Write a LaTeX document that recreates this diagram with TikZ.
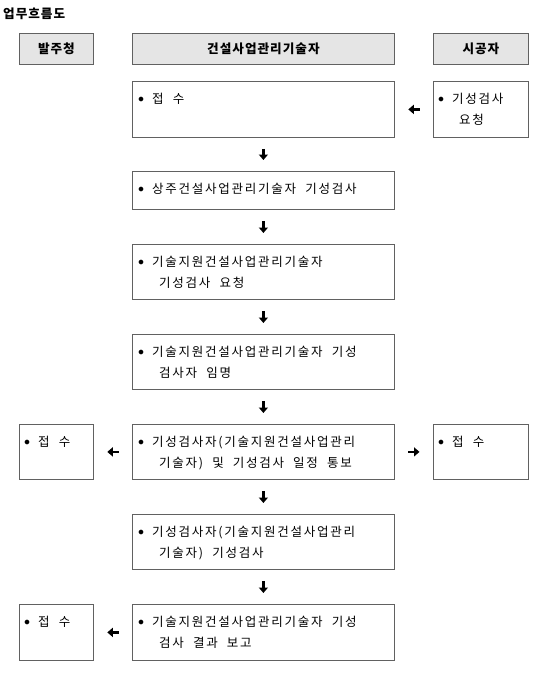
\documentclass[tikz,border=0pt]{standalone}
\usepackage{fontspec}
\usepackage{tikz}
\usetikzlibrary{arrows.meta}
\newfontfamily\krfont[LetterSpace=14,WordSpace=2.0]{Noto Sans CJK KR}
\newfontfamily\krhead[LetterSpace=8]{Noto Sans CJK KR}
\definecolor{boxline}{rgb}{0.38,0.38,0.38}
\definecolor{headfill}{rgb}{0.9,0.9,0.9}
\newcommand{\bul}{\makebox[14pt][l]{\raisebox{1pt}{$\bullet$}}}

\begin{document}
\begin{tikzpicture}[x=1pt,y=-1pt,
    box/.style={draw=boxline,line width=0.8pt,inner sep=0pt,anchor=north west},
    head/.style={box,fill=headfill,font=\krhead\bfseries\fontsize{12.6}{15}\selectfont},
    txt/.style={anchor=north west,inner sep=0pt,align=left,font=\krfont\fontsize{12.5}{21}\selectfont},
    arr/.style={-{Triangle[length=5.5pt,width=9pt]},line width=2.4pt,shorten <=11pt,shorten >=11pt},
    harr/.style={arr,shorten <=13.5pt,shorten >=13.5pt}]
            \useasboundingbox (0,0) rectangle (550,685);
            \node [anchor=west,inner sep=0pt,font=\krhead\bfseries\fontsize{12.6}{15}\selectfont] (title) at (3,14) {업무흐름도};

            \node [head,minimum width=74pt,minimum height=31pt] (h1) at (19,33) {발주청};
            \node [head,minimum width=262pt,minimum height=31pt] (h2) at (132,33) {건설사업관리기술자};
            \node [head,minimum width=95pt,minimum height=31pt] (h3) at (433,33) {시공자};

            \node [box,minimum width=262pt,minimum height=56pt] (c1) at (132,81) {};
            \node [box,minimum width=262pt,minimum height=38pt] (c2) at (132,171) {};
            \node [box,minimum width=262pt,minimum height=55pt] (c3) at (132,244) {};
            \node [box,minimum width=262pt,minimum height=55pt] (c4) at (132,334) {};
            \node [box,minimum width=262pt,minimum height=55pt] (c5) at (132,424) {};
            \node [box,minimum width=262pt,minimum height=55pt] (c6) at (132,514) {};
            \node [box,minimum width=262pt,minimum height=56pt] (c7) at (132,604) {};
            \node [box,minimum width=95pt,minimum height=56pt] (r1) at (433,81) {};
            \node [box,minimum width=95pt,minimum height=55pt] (r5) at (433,424) {};
            \node [box,minimum width=74pt,minimum height=55pt] (l5) at (19,424) {};
            \node [box,minimum width=74pt,minimum height=56pt] (l7) at (19,604) {};

            \node [txt] (t1) at ([shift={(6,12)}]c1.north west) {\bul 접 수};
            \node [txt] (t2) at ([shift={(6,12)}]c2.north west) {\bul 상주건설사업관리기술자 기성검사};
            \node [txt] (t3) at ([shift={(6,12)}]c3.north west) {\bul 기술지원건설사업관리기술자\\\hspace*{21pt}기성검사 요청};
            \node [txt] (t4) at ([shift={(6,12)}]c4.north west) {\bul 기술지원건설사업관리기술자 기성\\\hspace*{21pt}검사자 임명};
            \node [txt] (t5) at ([shift={(6,12)}]c5.north west) {\bul 기성검사자(기술지원건설사업관리\\\hspace*{21pt}기술자) 및 기성검사 일정 통보};
            \node [txt] (t6) at ([shift={(6,12)}]c6.north west) {\bul 기성검사자(기술지원건설사업관리\\\hspace*{21pt}기술자) 기성검사};
            \node [txt] (t7) at ([shift={(6,12)}]c7.north west) {\bul 기술지원건설사업관리기술자 기성\\\hspace*{21pt}검사 결과 보고};
            \node [txt] (tr1) at ([shift={(5,12)}]r1.north west) {\bul 기성검사\\\hspace*{21pt}요청};
            \node [txt] (tr5) at ([shift={(5,12)}]r5.north west) {\bul 접 수};
            \node [txt] (tl5) at ([shift={(5,12)}]l5.north west) {\bul 접 수};
            \node [txt] (tl7) at ([shift={(5,12)}]l7.north west) {\bul 접 수};

            \draw [arr] (c1.south) -- (c2.north);
            \draw [arr] (c2.south) -- (c3.north);
            \draw [arr] (c3.south) -- (c4.north);
            \draw [arr] (c4.south) -- (c5.north);
            \draw [arr] (c5.south) -- (c6.north);
            \draw [arr] (c6.south) -- (c7.north);
            \draw [harr] (r1.west) -- (c1.east);
            \draw [harr] (c5.west) -- (l5.east);
            \draw [harr] (c5.east) -- (r5.west);
            \draw [harr] (c7.west) -- (l7.east);
\end{tikzpicture}
\end{document}
